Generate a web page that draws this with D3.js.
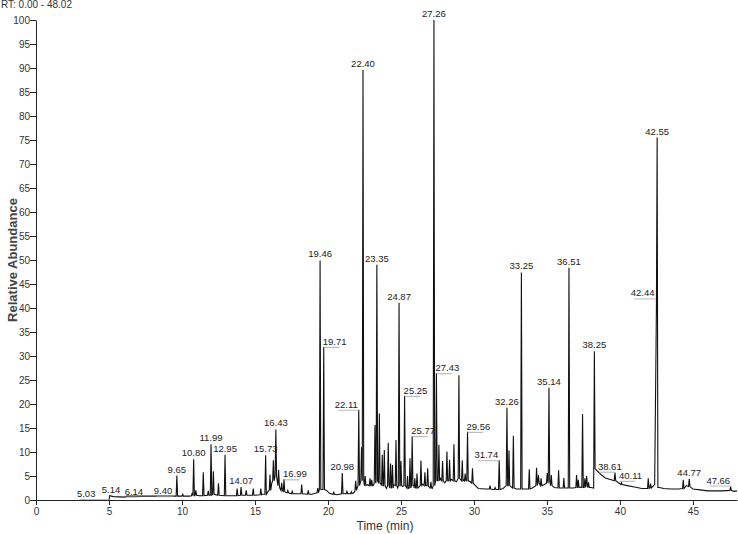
<!DOCTYPE html>
<html>
<head>
<meta charset="utf-8">
<script src="https://cdn.jsdelivr.net/npm/d3@7"></script>
<style>
  html, body { margin: 0; padding: 0; background: #fff; }
  svg { display: block; font-family: "Liberation Sans", Arial, sans-serif; }
</style>
</head>
<body>
<svg id="chart" width="738" height="534"></svg>
<script>
// ---------------- DATA ----------------
const rtRange = [0, 48.02];
const xTickLabels = [0, 5, 10, 15, 20, 25, 30, 35, 40, 45];
const yTickLabels = [0, 5, 10, 15, 20, 25, 30, 35, 40, 45, 50, 55, 60, 65, 70, 75, 80, 85, 90, 95, 100];
const headerText = "RT: 0.00 - 48.02";
const xTitle = "Time (min)";
const yTitle = "Relative Abundance";

// baseline (between peaks): [retention time, relative abundance]
const baseline = [
  [5.00, 0.0], [5.05, 0.9], [5.30, 0.7], [6.10, 0.6], [6.20, 0.8], [9.50, 0.8], [10.50, 0.8],
  [11.20, 0.9], [13.00, 0.9], [13.50, 0.9], [14.20, 1.0], [15.00, 1.0], [15.50, 1.2],
  [15.90, 1.8], [16.15, 3.5], [16.50, 4.5], [16.70, 2.5], [17.10, 1.6], [17.50, 1.3],
  [18.00, 1.3], [18.90, 1.2], [19.35, 1.8], [19.90, 2.0], [20.10, 1.4], [20.60, 1.1],
  [21.50, 1.3], [21.80, 1.6], [22.00, 2.5], [22.70, 3.2], [23.10, 3.0], [23.60, 3.5],
  [24.00, 2.4], [24.50, 3.2], [24.78, 2.5], [25.10, 2.8], [25.50, 2.3], [25.90, 3.0],
  [26.20, 2.6], [26.50, 3.3], [26.90, 2.8], [27.15, 2.4], [27.70, 4.5], [28.00, 3.6],
  [28.45, 4.3], [28.80, 3.8], [29.30, 4.2], [29.75, 3.8], [30.10, 3.0], [30.30, 2.4],
  [30.80, 2.3], [31.30, 2.2], [32.00, 2.4], [32.90, 2.3], [33.50, 2.3], [34.00, 2.5],
  [34.80, 3.2], [35.50, 2.6], [36.30, 2.5], [36.80, 2.5], [37.30, 2.7], [38.00, 2.6],
  [38.40, 6.2], [38.70, 5.3], [39.00, 4.6], [39.40, 4.2], [40.00, 3.4], [40.50, 3.0],
  [41.00, 2.7], [41.50, 2.4], [41.80, 2.4], [42.38, 3.2], [42.70, 2.6], [43.00, 2.4],
  [43.50, 2.3], [44.00, 2.3], [44.55, 3.0], [45.00, 2.3], [45.50, 2.1], [46.00, 1.9],
  [47.00, 1.9], [47.80, 1.8], [48.02, 1.9]
];

// peaks: [retention time, apex abundance, base before, base after (optional)]
const peaks = [
  [9.65, 5.1, 0.8], [10.05, 1.2, 0.8], [10.70, 1.5, 0.9], [10.80, 8.5, 0.9], [10.95, 2.0, 1.0],
  [11.46, 5.8, 0.9], [11.80, 1.9, 1.0], [11.99, 11.6, 1.0], [12.15, 6.0, 1.2], [12.50, 3.5, 1.0],
  [12.95, 9.4, 0.9], [13.78, 2.4, 0.9], [14.05, 2.7, 1.0], [14.40, 2.0, 1.0], [14.88, 2.4, 1.0],
  [15.40, 2.4, 1.1], [15.73, 9.3, 1.2], [16.03, 5.3, 2.0], [16.26, 8.3, 4.0], [16.43, 14.7, 5.0],
  [16.62, 6.3, 3.0], [16.83, 3.6, 2.0], [16.99, 4.3, 1.8], [17.25, 2.0, 1.5], [17.55, 1.8, 1.3],
  [18.20, 3.2, 1.3], [18.65, 2.0, 1.2], [19.30, 2.5, 1.5], [19.46, 49.9, 2.2], [19.71, 31.9, 2.2],
  [20.40, 1.6, 1.2], [20.98, 5.6, 1.3], [21.30, 1.8, 1.3], [21.60, 1.7, 1.3], [21.90, 4.0, 2.0],
  [22.11, 18.8, 3.0], [22.30, 11.0, 4.0], [22.40, 89.6, 4.0], [22.55, 5.0, 3.0], [22.88, 4.5, 3.0],
  [23.00, 4.2, 3.0], [23.22, 15.6, 3.5], [23.35, 49.0, 4.0], [23.52, 18.0, 3.5], [23.72, 9.4, 3.0],
  [23.86, 10.4, 3.0], [24.13, 11.9, 3.0], [24.29, 7.6, 2.5], [24.42, 7.3, 2.5], [24.66, 12.5, 3.0],
  [24.87, 41.1, 3.0], [25.00, 8.1, 3.0], [25.25, 21.7, 3.0], [25.45, 5.0, 2.5], [25.62, 8.7, 2.5],
  [25.77, 13.3, 3.0], [25.95, 4.5, 2.5], [26.10, 5.5, 2.5], [26.37, 8.2, 3.0], [26.64, 5.8, 3.0],
  [26.83, 6.6, 3.0], [27.05, 3.8, 2.5], [27.26, 100.0, 3.0], [27.43, 26.4, 4.0], [27.60, 11.5, 4.0],
  [27.85, 8.1, 4.0], [28.15, 10.1, 4.0], [28.33, 8.4, 4.0], [28.63, 11.6, 4.0], [28.97, 26.0, 4.5],
  [29.20, 8.3, 4.0], [29.40, 5.5, 4.0], [29.56, 14.2, 4.0], [29.90, 6.6, 3.5], [31.10, 3.0, 2.3],
  [31.45, 2.6, 2.2], [31.73, 8.3, 2.2], [32.26, 19.2, 3.0], [32.40, 10.3, 3.0], [32.70, 13.4, 2.5],
  [33.25, 47.4, 2.3], [33.79, 6.4, 2.3], [34.29, 6.7, 3.0], [34.42, 5.2, 3.5], [34.60, 4.5, 3.0],
  [35.02, 5.6, 3.5], [35.14, 23.4, 4.0], [35.30, 5.2, 3.0], [35.80, 6.2, 2.5], [36.16, 4.6, 2.5],
  [36.51, 48.4, 2.5], [37.03, 5.2, 2.6], [37.15, 4.2, 2.6], [37.44, 17.9, 2.6], [37.60, 4.5, 2.6],
  [37.72, 5.0, 3.0], [37.85, 3.7, 2.6], [38.25, 31.0, 2.5, 6.5], [39.66, 5.7, 4.0], [40.11, 3.6, 3.2],
  [41.94, 4.5, 2.4], [42.10, 3.4, 2.5], [42.55, 75.5, 40.0, 2.6], [44.34, 4.2, 2.4], [44.75, 4.4, 2.8],
  [47.58, 2.8, 2.0]
];

// peak labels: [text, retention time of anchor, abundance of anchor]
const peakLabels = [
  ["5.03", 5.03, 0.2], ["5.14", 5.14, 0.9], ["6.14", 6.14, 0.7], ["9.40", 9.40, 0.8],
  ["9.65", 9.65, 5.1], ["10.80", 10.80, 8.5], ["11.99", 11.99, 11.6], ["12.95", 12.95, 9.4],
  ["14.07", 14.05, 2.7], ["15.73", 15.73, 9.3], ["16.43", 16.43, 14.7], ["16.99", 16.99, 4.3],
  ["19.46", 19.46, 49.9], ["19.71", 19.71, 31.9], ["20.98", 20.98, 5.6], ["22.11", 22.11, 18.8],
  ["22.40", 22.40, 89.6], ["23.35", 23.35, 49.0], ["24.87", 24.87, 41.1], ["25.25", 25.25, 21.7],
  ["25.77", 25.77, 13.3], ["27.26", 27.26, 100.0], ["27.43", 27.43, 26.4], ["29.56", 29.56, 14.2],
  ["31.74", 31.73, 8.3], ["32.26", 32.26, 19.2], ["33.25", 33.25, 47.4], ["35.14", 35.14, 23.4],
  ["36.51", 36.51, 48.4], ["38.25", 38.25, 31.0], ["38.61", 38.56, 5.9], ["40.11", 40.00, 4.0],
  ["42.44", 42.44, 42.0], ["42.55", 42.55, 75.5], ["44.77", 44.75, 4.4], ["47.66", 47.62, 3.0]
];

// ---------------- DRAWING ----------------
// label placement: "r" = text right of anchor with leader, "l" = text left of anchor with leader
const placement = {
  "6.14": "r", "16.99": "r", "19.71": "r", "25.25": "r", "25.77": "r",
  "27.43": "r", "29.56": "r", "38.61": "r", "40.11": "r",
  "5.03": "l", "9.40": "l", "22.11": "l", "31.74": "l", "42.44": "l", "47.66": "l"
};
const extraShift = { "5.03": -13, "5.14": 0 };

const svg = d3.select("#chart");
const x = d3.scaleLinear().domain(rtRange).range([36, 737]);
const y = d3.scaleLinear().domain([0, 100]).range([500, 20]);

// build trace points from baseline and peak triangles
const hw = 0.05;
const pts = baseline.map(d => ({ t: d[0], a: d[1], o: 0 }));
peaks.forEach(p => {
  const after = p.length > 3 ? p[3] : p[2];
  pts.push({ t: p[0] - hw, a: p[2], o: 1 });
  pts.push({ t: p[0], a: p[1], o: 2 });
  pts.push({ t: p[0] + hw, a: after, o: 3 });
});
pts.sort((a, b) => a.t - b.t || a.o - b.o);

// axes
const xMinor = d3.range(0, 48.01, 0.5);
const yMinor = d3.range(0, 100.1, 1);

const gx = svg.append("g").attr("transform", `translate(0,${y(0)})`);
gx.call(d3.axisBottom(x).tickValues(xMinor).tickSize(3).tickFormat(""))
  .call(g => g.select(".domain").remove());
gx.call(d3.axisBottom(x).tickValues(xTickLabels).tickSize(5).tickSizeOuter(0).tickFormat(d3.format("d")));
gx.selectAll("text").attr("font-size", 10).attr("fill", "#333").attr("dy", "0.75em").attr("y", 7)
  .attr("font-family", "Liberation Sans, Arial, sans-serif");

const gy = svg.append("g").attr("transform", `translate(${x(0)},0)`);
gy.call(d3.axisLeft(y).tickValues(yMinor).tickSize(3).tickFormat(""))
  .call(g => g.select(".domain").remove());
gy.call(d3.axisLeft(y).tickValues(yTickLabels).tickSize(6).tickSizeOuter(0).tickFormat(d3.format("d")));
gy.selectAll("text").attr("font-size", 10).attr("fill", "#333").attr("x", -6)
  .attr("font-family", "Liberation Sans, Arial, sans-serif");
svg.selectAll(".domain, .tick line").attr("stroke", "#222");

// trace
svg.append("path")
  .datum(pts)
  .attr("fill", "none")
  .attr("stroke", "#111")
  .attr("stroke-width", 1.1)
  .attr("stroke-linejoin", "miter")
  .attr("d", d3.line().x(d => x(d.t)).y(d => y(d.a)));

// peak labels
const lg = svg.append("g").attr("font-size", 9.5).attr("fill", "#222");
peakLabels.forEach(([txt, t, a]) => {
  const px = x(t), py = y(a);
  const side = placement[txt];
  const sh = extraShift[txt] || 0;
  if (side === "r") {
    const tx = lg.append("text").attr("x", px - 1 + sh).attr("y", py - 2).attr("text-anchor", "start").text(txt);
    const w = tx.node().getComputedTextLength();
    lg.append("line").attr("x1", px).attr("x2", px + w * 0.65).attr("y1", py + 0.5).attr("y2", py + 0.5)
      .attr("stroke", "#999").attr("stroke-width", 0.8);
  } else if (side === "l") {
    const tx = lg.append("text").attr("x", px - 1 + sh).attr("y", py - 2).attr("text-anchor", "end").text(txt);
    const w = tx.node().getComputedTextLength();
    lg.append("line").attr("x1", px + sh - w * 0.9).attr("x2", px).attr("y1", py + 0.5).attr("y2", py + 0.5)
      .attr("stroke", "#aaa").attr("stroke-width", 0.8);
  } else {
    lg.append("text").attr("x", px + sh).attr("y", py - 3).attr("text-anchor", "middle").text(txt);
  }
});

// titles
svg.append("text").attr("x", 1).attr("y", 8).attr("font-size", 10).attr("fill", "#333").text(headerText);
svg.append("text").attr("x", 385).attr("y", 530).attr("text-anchor", "middle")
  .attr("font-size", 12).attr("fill", "#333").text(xTitle);
svg.append("text").attr("transform", `translate(17,${y(50)}) rotate(-90)`).attr("text-anchor", "middle")
  .attr("font-size", 13).attr("font-weight", "bold").attr("fill", "#444").text(yTitle);
</script>
</body>
</html>
